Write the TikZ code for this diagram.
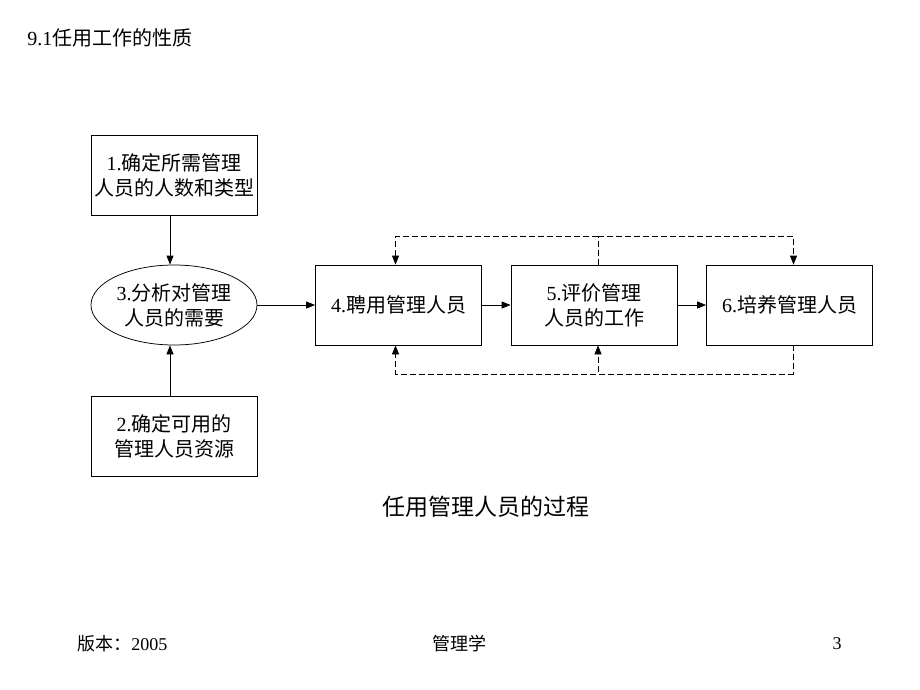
\documentclass[tikz,border=0pt]{standalone}
\usepackage{fontspec}
\setmainfont{Liberation Serif}
\newfontfamily\cjk{Noto Sans CJK SC}
\usepackage{tikz}
\usetikzlibrary{calc,positioning,arrows.meta,shapes}

\newcommand{\zh}[1]{{\cjk #1}}

\begin{document}
\begin{tikzpicture}[x=1pt, y=-1pt, line width=0.75pt, arr/.style={-{Triangle[length=9pt,width=7pt]}}, lbl/.style={font=\fontsize{20}{25}\selectfont, align=center}, dsh/.style={dash pattern=on 6pt off 3pt}, txt/.style={inner sep=0pt}]
\tikzstyle{box}=[draw, rectangle, minimum width=166pt, minimum height=80pt, inner sep=0pt, lbl]
\tikzstyle{oval}=[draw, ellipse, minimum width=166pt, minimum height=80pt, inner sep=0pt, lbl]
\useasboundingbox (0,0) rectangle (920,690);
\node[txt, anchor=west, font=\fontsize{20}{24}\selectfont] (hdr) at (27,38) {9.1\zh{任用工作的性质}};
\node[box] (n1) at (174,175) {1.\zh{确定所需管理}\\\zh{人员的人数和类型}};
\node[oval] (n3) at (174,305) {3.\zh{分析对管理}\\\zh{人员的需要}};
\node[box] (n2) at (174,436) {2.\zh{确定可用的}\\\zh{管理人员资源}};
\node[box] (n4) at (398.5,305) {4.\zh{聘用管理人员}};
\node[box] (n5) at (594,305) {5.\zh{评价管理}\\\zh{人员的工作}};
\node[box] (n6) at (789.5,305) {6.\zh{培养管理人员}};
\draw[arr] ([xshift=-4pt]n1.south) -- ([xshift=-4pt]n3.north);
\draw[arr] ([xshift=-4pt]n2.north) -- ([xshift=-4pt]n3.south);
\foreach \a/\b in {n3/n4,n4/n5,n5/n6}{\draw[arr] (\a) -- (\b);}
% feedback loops
\coordinate (top5) at ($(n5.north)+(4,-28)$);
\coordinate (bot6) at ($(n6.south)+(4,29)$);
\draw[dsh] ([xshift=4pt]n5.north) -- (top5);
\draw[dsh,arr] (top5) -| ([xshift=-3pt]n4.north);
\draw[dsh,arr] (top5) -| ([xshift=4pt]n6.north);
\draw[dsh] ([xshift=4pt]n6.south) -- (bot6);
\draw[dsh,arr] (bot6) -| ([xshift=-3pt]n4.south);
\draw[dsh,arr] (bot6) -| ([xshift=4pt]n5.south);
\node[txt, font=\fontsize{23}{28}\selectfont] (ttl) at (486,507) {\zh{任用管理人员的过程}};
\node[txt, anchor=west, font=\fontsize{18}{22}\selectfont] (ver) at (77,644) {\zh{版本：}2005};
\node[txt, font=\fontsize{18}{22}\selectfont] (subj) at (459,644) {\zh{管理学}};
\node[txt, font=\fontsize{18}{22}\selectfont] (pg) at (837,644) {3};
\end{tikzpicture}
\end{document}
